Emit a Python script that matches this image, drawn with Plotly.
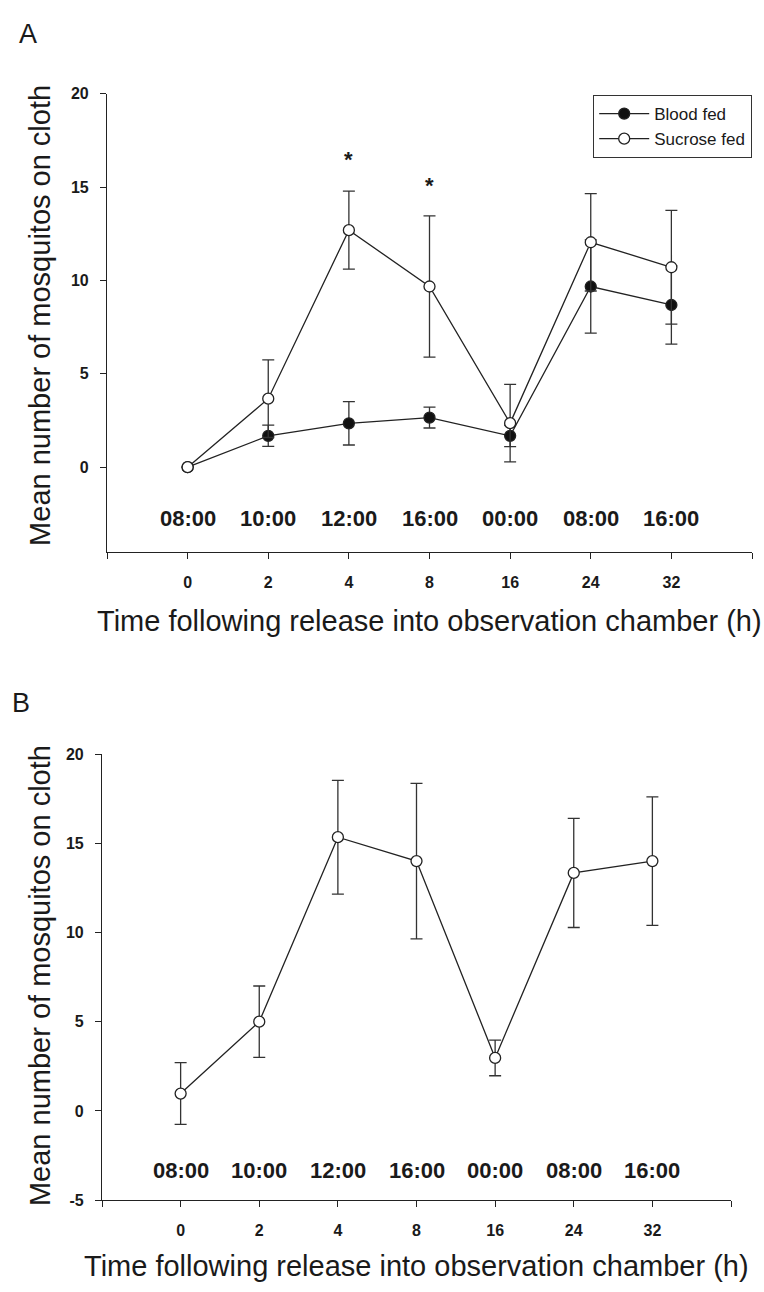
import plotly.graph_objects as go

# ---------------- data ----------------
hours = ["0", "2", "4", "8", "16", "24", "32"]
clock_labels = ["08:00", "10:00", "12:00", "16:00", "00:00", "08:00", "16:00"]

# Panel A
blood_mean = [0.0, 1.68, 2.35, 2.66, 1.68, 9.68, 8.69]
blood_err = [0.0, 0.57, 1.16, 0.56, 0.58, 2.5, 2.1]
sucrose_mean = [0.0, 3.67, 12.70, 9.68, 2.36, 12.05, 10.71]
sucrose_err = [0.0, 2.08, 2.09, 3.78, 2.08, 2.61, 3.05]
signif_hours = ["4", "8"]
signif_y = [16.3, 14.93]
yticks_a = [0, 5, 10, 15, 20]

# Panel B
b_mean = [0.97, 5.0, 15.34, 14.0, 2.97, 13.34, 14.0]
b_err = [1.73, 2.0, 3.19, 4.36, 1.0, 3.06, 3.6]
yticks_b = [-5, 0, 5, 10, 15, 20]

# ---------------- style ----------------
W, H = 764, 1292
FONT = "Liberation Sans, Arial, Helvetica, sans-serif"
INK = "#222222"

def px_x(p):
    return p / W

def px_y(p):
    return 1 - p / H

fig = go.Figure()

def line_trace(x, y, err, fill, name, xa, ya, showlegend):
    return go.Scatter(
        x=x, y=y, name=name, mode="lines+markers",
        xaxis=xa, yaxis=ya, showlegend=showlegend,
        line=dict(color=INK, width=1.3),
        marker=dict(symbol="circle", size=11, color=fill,
                    line=dict(color=INK, width=1.3)),
        error_y=dict(type="data", array=err, visible=True,
                     color="#333333", thickness=1.3, width=6),
        cliponaxis=False,
    )

fig.add_trace(line_trace(hours, blood_mean, blood_err, "#111111", "Blood fed", "x", "y", True))
fig.add_trace(line_trace(hours, sucrose_mean, sucrose_err, "white", "Sucrose fed", "x", "y", True))
fig.add_trace(line_trace(hours, b_mean, b_err, "white", "All", "x2", "y2", False))

tickvals_x = [-1] + hours + [7]
ticktext_x = [""] + hours + [""]

xcommon = dict(
    type="category", range=[-1, 7], showline=True, linecolor=INK, linewidth=1.2,
    ticks="outside", ticklen=6, tickwidth=1.2, tickcolor=INK,
    tickmode="array", tickvals=tickvals_x, ticktext=ticktext_x,
    tickfont=dict(family=FONT, size=16, color="#1a1a1a", weight="bold"),
    showgrid=False, zeroline=False, ticklabelstandoff=10,
)
ycommon = dict(
    showline=True, linecolor=INK, linewidth=1.2,
    ticks="outside", ticklen=6, tickwidth=1.2, tickcolor=INK,
    tickmode="array",
    tickfont=dict(family=FONT, size=16, color="#1a1a1a", weight="bold"),
    showgrid=False, zeroline=False, ticklabelstandoff=8,
)

fig.update_layout(
    width=W, height=H, margin=dict(l=0, r=0, t=0, b=0),
    paper_bgcolor="white", plot_bgcolor="white",
    font=dict(family=FONT, color="#1a1a1a"),
    xaxis=dict(domain=[px_x(107), px_x(752)], anchor="y", **xcommon),
    yaxis=dict(domain=[px_y(551), px_y(87)], anchor="x", range=[-4.53, 20],
               tickvals=yticks_a, ticktext=[str(v) for v in yticks_a], **ycommon),
    xaxis2=dict(domain=[px_x(102), px_x(731)], anchor="y2", **xcommon),
    yaxis2=dict(domain=[px_y(1208), px_y(756)], anchor="x2", range=[-5, 20],
                tickvals=yticks_b, ticktext=[str(v) for v in yticks_b], **ycommon),
    legend=dict(x=px_x(752), xanchor="right", y=px_y(88), yanchor="top",
                bordercolor="#333333", borderwidth=1.2, bgcolor="white",
                font=dict(family=FONT, size=17, color="#1a1a1a"),
                tracegroupgap=0, itemwidth=50),
)

ann = []
# panel letters
ann.append(dict(text="A", x=px_x(17), y=px_y(44), xref="paper", yref="paper",
                xanchor="left", yanchor="bottom", showarrow=False,
                font=dict(family=FONT, size=27, color="#1a1a1a")))
ann.append(dict(text="B", x=px_x(10), y=px_y(721), xref="paper", yref="paper",
                xanchor="left", yanchor="bottom", showarrow=False,
                font=dict(family=FONT, size=27, color="#1a1a1a")))
# axis titles
ytitle = "Mean number of mosquitos on cloth"
xtitle = "Time following release into observation chamber (h)"
for cy, cx_title, cy_title in [(312, 430, 621), (981, 416, 1275)]:
    ann.append(dict(text=ytitle, x=px_x(40), y=px_y(cy), xref="paper", yref="paper",
                    textangle=-90, showarrow=False, xanchor="center", yanchor="middle",
                    font=dict(family=FONT, size=29, color="#1a1a1a")))
    ann.append(dict(text=xtitle, x=px_x(cx_title), y=px_y(cy_title), xref="paper", yref="paper",
                    showarrow=False, xanchor="center", yanchor="middle",
                    font=dict(family=FONT, size=29, color="#1a1a1a")))
# clock labels inside plots (category index positions)
for xa, ya, yv in [("x", "y", -2.76), ("x2", "y2", -3.32)]:
    for i, c in enumerate(clock_labels):
        ann.append(dict(text=c, x=i, y=yv, xref=xa, yref=ya, showarrow=False,
                        xanchor="center", yanchor="middle",
                        font=dict(family=FONT, size=22, color="#1a1a1a", weight="bold")))
# significance asterisks
for h, yv in zip(signif_hours, signif_y):
    ann.append(dict(text="*", x=hours.index(h), y=yv, xref="x", yref="y", showarrow=False,
                    xanchor="center", yanchor="middle", yshift=3,
                    font=dict(family=FONT, size=22, color="#1a1a1a", weight="bold")))

fig.update_layout(annotations=ann)

fig.write_html("out.html", config={"displayModeBar": False},
               post_script="document.body.style.margin='0px';")
